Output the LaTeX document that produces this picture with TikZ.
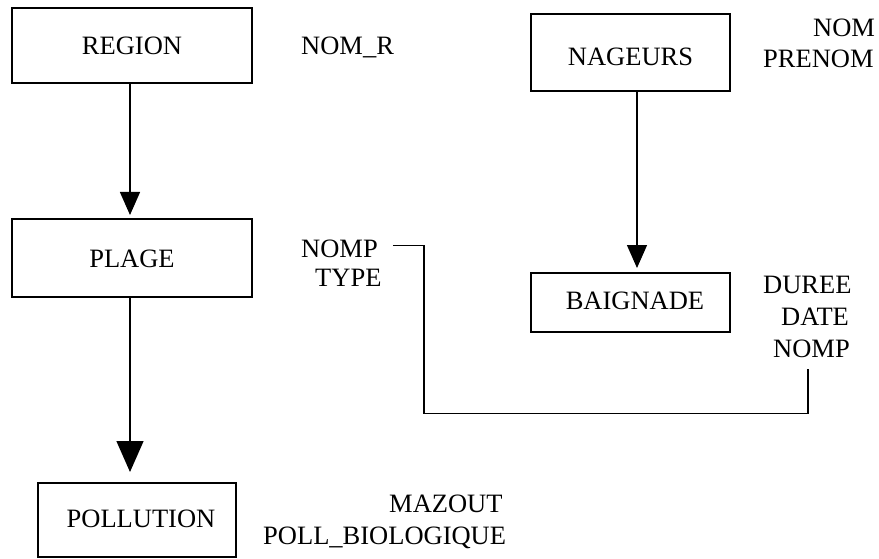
\documentclass[tikz,border=0pt]{standalone}
\usepackage{fontspec}
\setmainfont{Liberation Serif}
\usetikzlibrary{arrows.meta}
\tikzset{
  ent/.style={draw, line width=2pt, inner sep=0pt, text depth=0pt},
  attr/.style={anchor=base west, inner sep=0pt},
  arr/.style={line width=1.4pt, -{Triangle[width=20pt,length=23pt]}},
  bigarr/.style={line width=1.4pt, -{Triangle[width=27pt,length=31pt]}},
  link/.style={line width=1.5pt},
}
\begin{document}
\begin{tikzpicture}[x=1pt, y=-1pt, font=\fontsize{26.5}{30}\selectfont]
\useasboundingbox (0,0) rectangle (879,559);

% entity boxes
\node[ent, minimum width=240pt, minimum height=75pt, text height=19pt]
  (region) at (132,45.5) {REGION\hspace{19pt}};
\node[ent, minimum width=240pt, minimum height=78pt, text height=18pt]
  (plage) at (132,258) {PLAGE\hspace{3pt}};
\node[ent, minimum width=198pt, minimum height=74pt, text height=14pt]
  (pollution) at (137,520) {\hspace{8pt}POLLUTION};
\node[ent, minimum width=199pt, minimum height=77pt, text height=27pt]
  (nageurs) at (630.5,52.5) {NAGEURS\hspace{7pt}};
\node[ent, minimum width=199pt, minimum height=59pt, text height=13pt]
  (baignade) at (630.5,302.5) {\hspace{9pt}BAIGNADE};

% attributes
\node[attr] (nomr) at (301,55) {NOM\_R};
\node[attr] (nompP) at (301,258) {NOMP};
\node[attr] (typeP) at (315,286) {TYPE};
\node[attr] (nomN) at (813,37) {NOM};
\node[attr] (prenomN) at (763,68) {PRENOM};
\node[attr] (dureeB) at (763,293) {DUREE};
\node[attr] (dateB) at (781,325) {DATE};
\node[attr] (nompB) at (773,357) {NOMP};
\node[attr] (mazout) at (389,512) {MAZOUT};
\node[attr] (pollbio) at (263,544) {POLL\_BIOLOGIQUE};

% links between entities
\draw[arr] ([xshift=-2pt]region.south) -- ([shift={(-2pt,3pt)}]plage.north);
\draw[bigarr] ([xshift=-2pt]plage.south) -- ([shift={(-2pt,10pt)}]plage.south |- pollution.north);
\draw[arr] ([xshift=6.5pt]nageurs.south) -- ([shift={(6.5pt,4pt)}]baignade.north);

% NOMP reference between PLAGE and BAIGNADE
\coordinate (lnkA) at ([shift={(15pt,4pt)}]nompP.east);
\coordinate (lnkB) at ([shift={(-3.5pt,-12pt)}]nompB.south);
\draw[link] (lnkA) -- ++(31pt,0) |- ([yshift=-44pt]lnkB) -- (lnkB);
\end{tikzpicture}
\end{document}
